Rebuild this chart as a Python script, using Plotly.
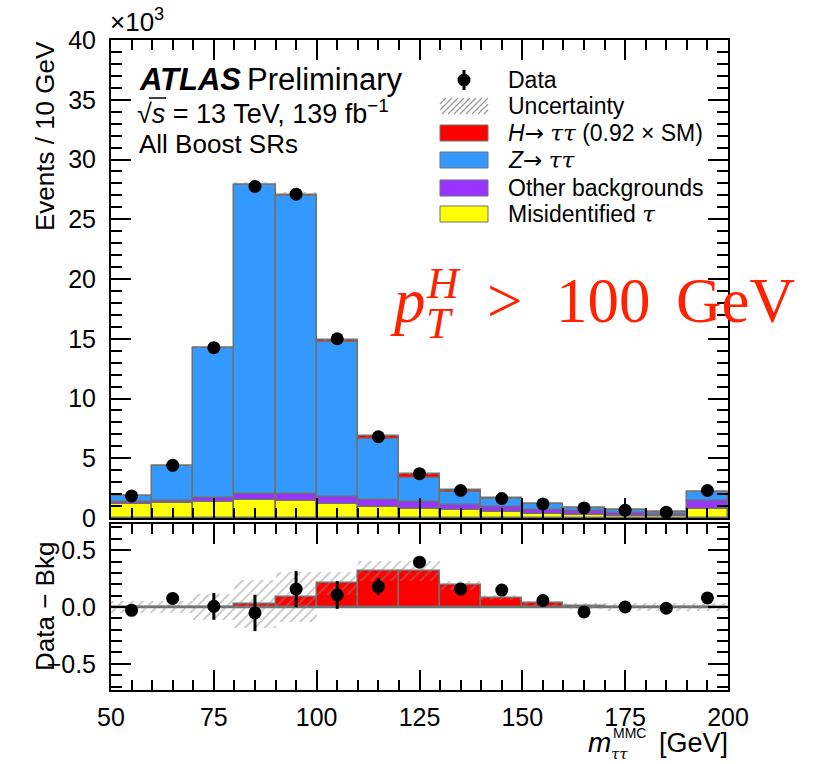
import plotly.graph_objects as go

# ---------------- data (values in units of 10^3 events) ----------------
bin_centers = [55, 65, 75, 85, 95, 105, 115, 125, 135, 145, 155, 165, 175, 185, 195]
data_vals = [1.85, 4.41, 14.25, 27.75, 27.1, 15.0, 6.8, 3.71, 2.30, 1.63, 1.18, 0.84, 0.65, 0.48, 2.30]
data_err = [0.03, 0.05, 0.118, 0.16, 0.16, 0.122, 0.075, 0.035, 0.03, 0.03, 0.03, 0.03, 0.03, 0.03, 0.03]
misid_vals = [1.21, 1.26, 1.35, 1.49, 1.40, 1.15, 0.93, 0.76, 0.65, 0.51, 0.37, 0.25, 0.20, 0.14, 0.76]
other_vals = [0.11, 0.20, 0.36, 0.56, 0.59, 0.62, 0.61, 0.55, 0.45, 0.42, 0.33, 0.31, 0.25, 0.20, 0.67]
ztt_vals = [0.56, 2.89, 12.52, 25.80, 24.95, 12.92, 5.04, 2.02, 1.04, 0.62, 0.45, 0.29, 0.22, 0.17, 0.76]
htt_vals = [0.0, 0.0, 0.0, 0.026, 0.086, 0.207, 0.316, 0.316, 0.19, 0.083, 0.032, 0.01, 0.004, 0.003, 0.003]
unc_half = [0.057, 0.057, 0.11, 0.21, 0.22, 0.10, 0.086, 0.086, 0.043, 0.025, 0.02, 0.025, 0.035, 0.035, 0.035]
diff_vals = [-0.029, 0.075, 0.006, -0.052, 0.158, 0.106, 0.18, 0.394, 0.158, 0.149, 0.057, -0.043, 0.0, -0.011, 0.08]
bin_width = 10
x_ticks = [50, 75, 100, 125, 150, 175, 200]

# ---------------- styles ----------------
C_YEL = "#ffff00"
C_PUR = "#9933ff"
C_BLU = "#3399ff"
C_RED = "#ff0000"
C_EDGE = "#707070"
SANS = "Liberation Sans, Arial, Helvetica, sans-serif"
SERIF = "Liberation Serif, Times New Roman, serif"
GREEK = "DejaVu Serif"
TAU = "<span style='font-family:DejaVu Serif'><i>ττ</i></span>"
TAU1 = "<span style='font-family:DejaVu Serif'><i>τ</i></span>"
ARROW = "<span style='font-family:DejaVu Sans'>→</span>"

W, H = 819, 764
L, R, T, B = 111, 728, 40, 690  # plot area in pixels
TOP_BOTTOM = 518
LOW_TOP = 524


def px(x):
    return (x - L) / (R - L)


def py(y):
    return (B - y) / (B - T)


# cumulative stacks
b_other = [m for m in misid_vals]
b_ztt = [m + o for m, o in zip(misid_vals, other_vals)]
b_htt = [m + o + z for m, o, z in zip(misid_vals, other_vals, ztt_vals)]
tot = [b + h for b, h in zip(b_htt, htt_vals)]

fig = go.Figure()


def stack_bar(y, base, color, xa="x", ya="y"):
    fig.add_trace(go.Bar(
        x=bin_centers, y=y, base=base, width=bin_width,
        marker=dict(color=color, line=dict(color=C_EDGE, width=1.5)),
        xaxis=xa, yaxis=ya, showlegend=False, hoverinfo="skip"))


stack_bar(misid_vals, [0] * len(bin_centers), C_YEL)
stack_bar(other_vals, b_other, C_PUR)
stack_bar(ztt_vals, b_ztt, C_BLU)
stack_bar(htt_vals, b_htt, C_RED)

hatch = dict(color="rgba(0,0,0,0)",
             line=dict(width=0),
             pattern=dict(shape="/", fgcolor="#8a8a8a", bgcolor="rgba(0,0,0,0)",
                          size=7, solidity=0.25, fillmode="overlay"))

# uncertainty band top panel
fig.add_trace(go.Bar(
    x=bin_centers, y=[2 * u for u in unc_half],
    base=[t - u for t, u in zip(tot, unc_half)], width=bin_width,
    marker=hatch, xaxis="x", yaxis="y", showlegend=False, hoverinfo="skip"))

fig.add_trace(go.Scatter(
    x=bin_centers, y=data_vals, mode="markers",
    marker=dict(color="black", size=13),
    error_y=dict(type="data", array=data_err, color="black", thickness=3, width=0),
    xaxis="x", yaxis="y", showlegend=False, hoverinfo="skip"))

# lower panel
stack_bar(htt_vals, [0] * len(bin_centers), C_RED, "x2", "y2")
fig.add_trace(go.Bar(
    x=bin_centers, y=[2 * u for u in unc_half],
    base=[h - u for h, u in zip(htt_vals, unc_half)], width=bin_width,
    marker=hatch, xaxis="x2", yaxis="y2", showlegend=False, hoverinfo="skip"))
fig.add_trace(go.Scatter(
    x=bin_centers, y=diff_vals, mode="markers",
    marker=dict(color="black", size=13),
    error_y=dict(type="data", array=data_err, color="black", thickness=3, width=0),
    xaxis="x2", yaxis="y2", showlegend=False, hoverinfo="skip"))

axis_common = dict(showline=True, linecolor="black", linewidth=2, mirror="ticks",
                   ticks="inside", tickcolor="black", tickwidth=1.5, ticklen=20,
                   showgrid=False, zeroline=False,
                   tickfont=dict(family=SANS, size=25, color="black"))

dom_top = [py(TOP_BOTTOM), 1.0]
dom_low = [0.0, py(LOW_TOP)]

fig.update_layout(
    width=W, height=H,
    margin=dict(l=L, r=W - R, t=T, b=H - B, pad=0),
    paper_bgcolor="white", plot_bgcolor="white",
    barmode="overlay", bargap=0,
    showlegend=False,
    xaxis=dict(domain=[0, 1], range=[50, 200], anchor="y", showticklabels=False,
               tickvals=x_ticks,
               minor=dict(ticks="inside", dtick=5, tick0=50, ticklen=10, tickcolor="black", tickwidth=1.5),
               **axis_common),
    yaxis=dict(domain=dom_top, range=[0, 40], dtick=5, tick0=0, anchor="x",
               minor=dict(ticks="inside", dtick=1, tick0=0, ticklen=11, tickcolor="black", tickwidth=1.5),
               ticklabelstandoff=8,
               **axis_common),
    xaxis2=dict(domain=[0, 1], range=[50, 200], anchor="y2", matches="x",
                tickvals=x_ticks,
                minor=dict(ticks="inside", dtick=5, tick0=50, ticklen=10, tickcolor="black", tickwidth=1.5),
                ticklabelstandoff=4,
                **axis_common),
    yaxis2=dict(domain=dom_low, range=[-0.73, 0.73], dtick=0.5, tick0=0, tickformat=".1f",
                anchor="x2",
                minor=dict(ticks="inside", dtick=0.1, tick0=0, ticklen=11, tickcolor="black", tickwidth=1.5),
                ticklabelstandoff=8,
                **axis_common),
)

# zero line in lower panel
fig.add_shape(type="line", xref="x2", yref="y2", x0=50, x1=200, y0=0, y1=0,
              line=dict(color=C_EDGE, width=2.5), layer="below")

ann = []


def text(x, y, s, size, family=SANS, color="black", xanchor="left", yanchor="middle", angle=0):
    ann.append(dict(x=px(x), y=py(y), xref="paper", yref="paper", text=s, showarrow=False,
                    xanchor=xanchor, yanchor=yanchor, textangle=angle, borderpad=0,
                    font=dict(family=family, size=size, color=color)))


# axis titles
text(45, 40, "Events / 10 GeV", 26, xanchor="center", yanchor="top", angle=-90)
text(45, 607, "Data − Bkg", 26, xanchor="center", yanchor="middle", angle=-90)
text(729, 743, "[GeV]", 27, xanchor="right")
text(612, 742, "<i>m</i>", 28, xanchor="right")
text(610, 754, "<i>ττ</i>", 15, family=GREEK, xanchor="left")
text(612, 733, "MMC", 14, xanchor="left")
text(109, 20, "×10<sup>3</sup>", 26)

# ATLAS labels
text(138, 79, "<b><i>ATLAS</i></b>", 31)
text(246, 79, "Preliminary", 31)
text(136, 112, "√<i>s</i> = 13 TeV, 139 fb<sup>−1</sup>", 27)
text(138, 144, "All Boost SRs", 26)

# big red label
RED_TXT = "#ff2200"
text(389, 301, "<i>p</i>", 63, family=SERIF, color=RED_TXT)
text(425, 283, "<i>H</i>", 44, family=SERIF, color=RED_TXT)
text(425, 323, "<i>T</i>", 44, family=SERIF, color=RED_TXT)
text(486, 301, "&gt;", 63, family=SERIF, color=RED_TXT)
text(555, 301, "100", 63, family=SERIF, color=RED_TXT)
text(675, 301, "GeV", 63, family=SERIF, color=RED_TXT)

# legend
leg_x0, leg_x1, leg_tx = 440, 488, 507
rows = [80, 106, 133, 160, 188, 214]
labels = ["Data", "Uncertainty", "<i>H</i>" + ARROW + " " + TAU + " (0.92 × SM)", "<i>Z</i>" + ARROW + " " + TAU,
          "Other backgrounds", "Misidentified " + TAU1]
for yy, lab in zip(rows, labels):
    text(leg_tx, yy, lab, 23)

shapes = []
# overline of sqrt(s)
shapes.append(dict(type="line", xref="paper", yref="paper", x0=px(149), x1=px(166),
                   y0=py(98), y1=py(98), line=dict(color="black", width=1.5)))
# data marker
shapes.append(dict(type="line", xref="paper", yref="paper", x0=px(464), x1=px(464),
                   y0=py(rows[0] - 10), y1=py(rows[0] + 10), line=dict(color="black", width=3)))
shapes.append(dict(type="circle", xref="paper", yref="paper", x0=px(457.5), x1=px(470.5),
                   y0=py(rows[0] - 6.5), y1=py(rows[0] + 6.5), fillcolor="black", line=dict(width=0)))
# hatched uncertainty box
hy0, hy1 = rows[1] - 8, rows[1] + 8
for c in range(-16, 50, 6):
    xa, ya_ = leg_x0 + c, hy1
    xb, yb = leg_x0 + c + 16, hy0
    if xa < leg_x0:
        ya_ = hy1 - (leg_x0 - xa)
        xa = leg_x0
    if xb > leg_x1:
        yb = hy0 + (xb - leg_x1)
        xb = leg_x1
    if xb <= xa:
        continue
    shapes.append(dict(type="line", xref="paper", yref="paper", x0=px(xa), x1=px(xb),
                       y0=py(ya_), y1=py(yb), line=dict(color="#9a9a9a", width=1.2)))
for yy, col in zip(rows[2:], [C_RED, C_BLU, C_PUR, C_YEL]):
    shapes.append(dict(type="rect", xref="paper", yref="paper", x0=px(leg_x0), x1=px(leg_x1),
                       y0=py(yy + 8), y1=py(yy - 8), fillcolor=col, line=dict(color=C_EDGE, width=1)))

for s in shapes:
    fig.add_shape(**s)
fig.update_layout(annotations=ann)

fig.write_html("out.html", config={"displayModeBar": False},
               post_script="document.body.style.margin='0px';document.body.style.overflow='hidden';")
